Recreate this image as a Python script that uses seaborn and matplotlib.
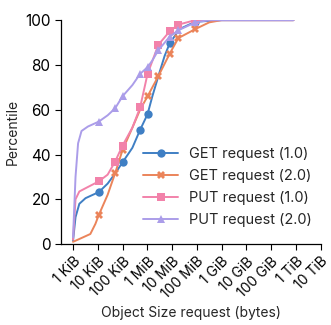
import matplotlib
matplotlib.use("Agg")
import matplotlib.pyplot as plt
import seaborn as sns
import pandas as pd

# sizes in KiB, percentiles
get1_size = [1, 1.26, 1.8, 3.2, 6.3, 11, 25, 50, 100, 250, 512, 1024, 1600, 2800, 5000, 8000, 20000, 87000, 1e6, 8e8]
get1_pct  = [1.5, 12, 18, 20.5, 22, 23.2, 27, 31.5, 36.5, 43, 51, 58, 66, 75, 84, 89.6, 96, 99.3, 100, 100]
get1_mark = [0, 0, 0, 0, 0, 1, 0, 0, 1, 0, 1, 1, 0, 0, 0, 1, 0, 1, 0, 0]

get2_size = [1, 2, 5, 8, 11, 25, 50, 100, 250, 512, 1024, 2800, 8000, 18000, 87000, 316000, 1e6, 8e8]
get2_pct  = [1, 2.5, 4.5, 9, 13, 22, 31.6, 42, 52, 60, 66, 75, 85, 92, 96, 99, 100, 100]
get2_mark = [0, 0, 0, 0, 1, 0, 1, 1, 0, 0, 1, 1, 1, 1, 1, 0, 0, 0]

put1_size = [1, 1.26, 1.8, 4, 11, 25, 50, 100, 250, 512, 1024, 2800, 8000, 18000, 87000, 8e8]
put1_pct  = [2, 20, 23.5, 25.5, 28, 31, 36.8, 44, 52, 61, 76, 89, 95, 98, 100, 100]
put1_mark = [0, 0, 0, 0, 1, 0, 1, 1, 0, 1, 1, 1, 1, 1, 1, 0]

put2_size = [1, 1.26, 1.6, 2.2, 4, 11, 25, 50, 100, 250, 512, 1024, 1600, 2800, 8000, 18000, 87000, 316000, 8e8]
put2_pct  = [3, 30, 45, 50.5, 52.5, 54.7, 57.5, 60.6, 66, 71, 76, 79, 82, 86.6, 92.6, 95.5, 99, 100, 100]
put2_mark = [0, 0, 0, 0, 0, 1, 0, 1, 1, 0, 1, 1, 0, 1, 1, 1, 1, 0, 0]

series_names = ["GET request (1.0)", "GET request (2.0)", "PUT request (1.0)", "PUT request (2.0)"]
tick_vals = [1, 10, 100, 1e3, 1e4, 1e5, 1e6, 1e7, 1e8, 1e9, 1e10]
tick_labels = ["1 KiB", "10 KiB", "100 KiB", "1 MiB", "10 MiB", "100 MiB",
               "1 GiB", "10 GiB", "100 GiB", "1 TiB", "10 TiB"]

colors = ["#3f7fc4", "#eb845a", "#f282aa", "#ab9de9"]
markers = ["o", "X", "s", "^"]

sizes = [get1_size, get2_size, put1_size, put2_size]
pcts = [get1_pct, get2_pct, put1_pct, put2_pct]
marks = [get1_mark, get2_mark, put1_mark, put2_mark]

frames = []
for name, s, p in zip(series_names, sizes, pcts):
    frames.append(pd.DataFrame({"size": s, "pct": p, "series": name}))
df = pd.concat(frames, ignore_index=True)

sns.set_style("ticks")
plt.rcParams["font.family"] = ["Inter", "DejaVu Sans"]

fig = plt.figure(figsize=(3.31, 3.25), dpi=100)
ax = fig.add_axes([0.184, 0.249, 0.786, 0.689])

sns.lineplot(data=df, x="size", y="pct", hue="series", style="series",
             hue_order=series_names, style_order=series_names,
             palette=dict(zip(series_names, colors)),
             markers=dict(zip(series_names, markers)), dashes=False,
             estimator=None, sort=False, linewidth=1.4, markersize=6,
             markeredgewidth=0, ax=ax, legend=True)

for line, mk in zip(ax.lines[:4], marks):
    line.set_markevery([i for i, m in enumerate(mk) if m])

ax.set_xscale("log")
ax.set_xlim(10 ** -0.49, 10 ** 10.02)
ax.set_ylim(0, 100)
ax.set_xticks(tick_vals)
ax.set_xticklabels(tick_labels, rotation=45, ha="right", rotation_mode="anchor", fontsize=10)
ax.minorticks_off()
ax.set_yticks([0, 20, 40, 60, 80, 100])
ax.tick_params(axis="y", labelsize=11, length=4, width=0.8, colors="black")
ax.tick_params(axis="x", length=4, width=0.8, colors="black")
for sp in ["left", "bottom"]:
    ax.spines[sp].set_color("black")
    ax.spines[sp].set_linewidth(0.9)
sns.despine(ax=ax)
ax.set_xlabel("Object Size request (bytes)", fontsize=10, labelpad=3)
ax.set_ylabel("Percentile", fontsize=10, labelpad=4)

handles, labels = ax.get_legend_handles_labels()
for h in handles:
    h.set_markeredgewidth(0)
ax.legend(handles, labels, loc="upper left", bbox_to_anchor=(0.295, 0.46),
          frameon=False, fontsize=10.5, handlelength=2.4, handletextpad=0.75,
          labelspacing=0.55, borderaxespad=0)

fig.savefig("out.png", dpi=100)
